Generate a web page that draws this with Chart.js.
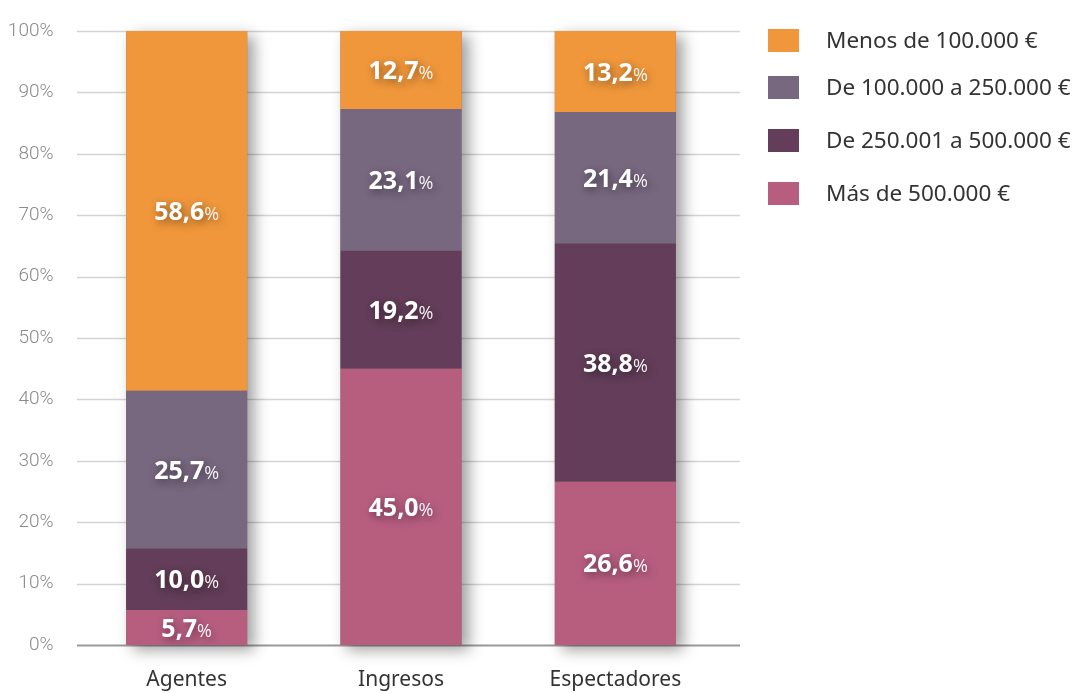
<!DOCTYPE html>
<html><head><meta charset="utf-8">
<script src="https://cdn.jsdelivr.net/npm/chart.js@4"></script>
<style>
html,body{margin:0;padding:0;background:#fff;}
#wrap{position:relative;width:1078px;height:693px;overflow:hidden;}
#c{position:absolute;left:0;top:0;}
#legend{position:absolute;left:768px;top:0;font-family:'Noto Sans';font-size:22.5px;color:#333;}
.item{position:absolute;left:0;height:23px;white-space:nowrap;}
.sw{position:absolute;left:0;top:0;width:31px;height:23px;}
.lb{position:absolute;left:58px;top:-4px;line-height:30px;}
</style>
</head><body>
<div id="wrap"><canvas id="c" width="1078" height="693"></canvas><div id="legend"></div></div>
<script>
const categories = ['Agentes', 'Ingresos', 'Espectadores'];
const seriesNames = ['Más de 500.000 €', 'De 250.001 a 500.000 €', 'De 100.000 a 250.000 €', 'Menos de 100.000 €'];
const masDe500 = [5.7, 45.0, 26.6];
const de250a500 = [10.0, 19.2, 38.8];
const de100a250 = [25.7, 23.1, 21.4];
const menosDe100 = [58.6, 12.7, 13.2];
const seriesColors = ['#B75E7F', '#633D59', '#77677F', '#F0973B'];
const yTicks = [0, 10, 20, 30, 40, 50, 60, 70, 80, 90, 100];
const legendOrder = [3, 2, 1, 0];
const legendTops = [29, 76, 129, 182];

const seriesData = [masDe500, de250a500, de100a250, menosDe100];

const decorPlugin = {
  id: 'decor',
  beforeDatasetsDraw(chart) {
    const ctx = chart.ctx, y = chart.scales.y;
    ctx.save();
    yTicks.forEach(t => {
      const py = Math.round(y.getPixelForValue(t)) + 0.5;
      ctx.beginPath();
      ctx.moveTo(77, py); ctx.lineTo(740, py);
      ctx.strokeStyle = t === 0 ? '#9a9a9a' : '#d4d4d4';
      ctx.lineWidth = t === 0 ? 2 : 1.5;
      ctx.stroke();
    });
    ctx.restore();
    const metas = chart.data.datasets.map((d, i) => chart.getDatasetMeta(i));
    categories.forEach((c, j) => {
      let top = Infinity, x = 0, w = 0;
      metas.forEach(m => { const b = m.data[j]; top = Math.min(top, b.y); x = b.x; w = b.width; });
      const base = y.getPixelForValue(0);
      ctx.save();
      ctx.shadowColor = 'rgba(0,0,0,0.38)';
      ctx.shadowBlur = 14;
      ctx.shadowOffsetX = 7;
      ctx.shadowOffsetY = 5;
      ctx.fillStyle = '#777';
      ctx.fillRect(x - w / 2, top, w, base - top);
      ctx.restore();
    });
  },
  afterDatasetsDraw(chart) {
    const ctx = chart.ctx;
    chart.data.datasets.forEach((ds, i) => {
      const meta = chart.getDatasetMeta(i);
      meta.data.forEach((bar, j) => {
        const v = ds.data[j];
        const num = v.toFixed(1).replace('.', ',');
        const yMid = (bar.y + bar.base) / 2;
        ctx.save();
        ctx.font = 'bold 25px "Open Sans"';
        const w1 = ctx.measureText(num).width;
        ctx.font = '18px "Open Sans"';
        const w2 = ctx.measureText('%').width;
        const x0 = bar.x - (w1 + w2) / 2;
        ctx.shadowColor = 'rgba(0,0,0,0.45)';
        ctx.shadowBlur = 8;
        ctx.shadowOffsetX = 2;
        ctx.shadowOffsetY = 3;
        ctx.fillStyle = '#fff';
        ctx.textBaseline = 'alphabetic';
        ctx.textAlign = 'left';
        ctx.font = 'bold 25px "Open Sans"';
        ctx.fillText(num, x0, yMid + 9);
        ctx.font = '18px "Open Sans"';
        ctx.fillStyle = 'rgba(255,255,255,0.92)';
        ctx.fillText('%', x0 + w1, yMid + 9);
        ctx.restore();
      });
    });
  }
};

new Chart(document.getElementById('c'), {
  type: 'bar',
  data: {
    labels: categories,
    datasets: seriesData.map((d, i) => ({
      label: seriesNames[i],
      data: d,
      backgroundColor: seriesColors[i],
      borderWidth: 0,
      barPercentage: 0.565,
      categoryPercentage: 1
    }))
  },
  options: {
    responsive: false,
    devicePixelRatio: 1,
    animation: false,
    layout: { padding: { left: 0, right: 355.5, top: 31, bottom: 0 } },
    plugins: { legend: { display: false }, tooltip: { enabled: false } },
    scales: {
      x: {
        stacked: true,
        grid: { display: false, drawTicks: false },
        border: { display: false },
        ticks: { color: '#333', padding: 22, font: { family: 'Noto Sans', size: 21 } },
        afterFit(s) { s.height = 48; s.paddingLeft = 0; s.paddingRight = 0; }
      },
      y: {
        stacked: true,
        min: 0, max: 100,
        afterBuildTicks(s) { s.ticks = yTicks.map(v => ({ value: v })); },
        grid: { display: false, drawTicks: false },
        border: { display: false },
        ticks: { color: '#8a8a8a', padding: 26, font: { family: 'Roboto', size: 19, weight: 300 }, callback: v => v + '%' },
        afterFit(s) { s.width = 79.5; s.paddingTop = 0; s.paddingBottom = 0; }
      }
    }
  },
  plugins: [decorPlugin]
});

const lg = document.getElementById('legend');
legendOrder.forEach((idx, k) => {
  const it = document.createElement('div');
  it.className = 'item';
  it.style.top = legendTops[k] + 'px';
  const sw = document.createElement('div');
  sw.className = 'sw'; sw.style.background = seriesColors[idx];
  const lb = document.createElement('div');
  lb.className = 'lb'; lb.textContent = seriesNames[idx];
  it.appendChild(sw); it.appendChild(lb);
  lg.appendChild(it);
});
</script>
</body></html>
